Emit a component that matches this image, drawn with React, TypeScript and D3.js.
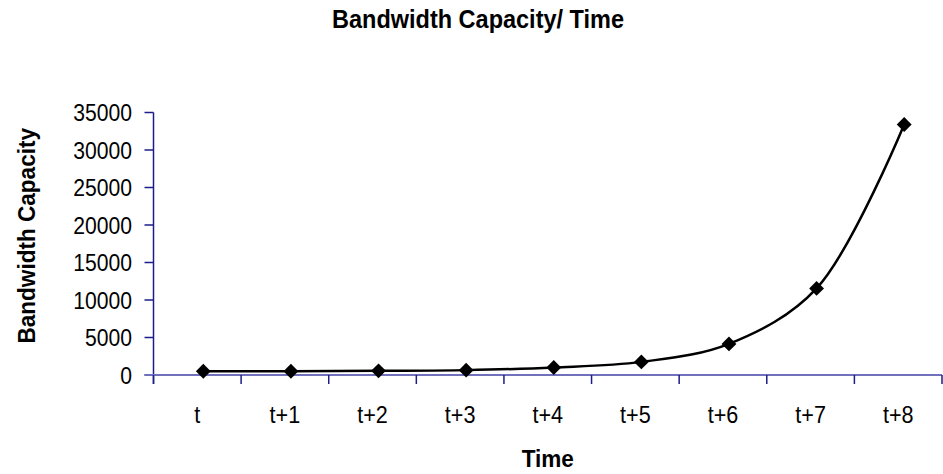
import * as d3 from "d3";
import React from "react";

const categories = ["t", "t+1", "t+2", "t+3", "t+4", "t+5", "t+6", "t+7", "t+8"];
const capacity = [500, 500, 560, 650, 1000, 1750, 4150, 11550, 33400];
const yTicks = [0, 5000, 10000, 15000, 20000, 25000, 30000, 35000];

const width = 943;
const height = 474;
const margin = { top: 112.5, right: 1, bottom: 99, left: 153.5 };
const axisColor = "#1c1c8a";
const font = "'Liberation Sans', Arial, sans-serif";

type NarrowTextProps = {
  x: number;
  y: number;
  size: number;
  squeeze?: number;
  anchor?: "start" | "middle" | "end";
  bold?: boolean;
  rotate?: number;
  children: React.ReactNode;
};

// the original uses a condensed face; squeeze Liberation Sans horizontally
const NarrowText = ({ x, y, size, squeeze = 0.88, anchor = "middle", bold, rotate = 0, children }: NarrowTextProps) => (
  <text
    transform={`translate(${x},${y}) rotate(${rotate}) scale(${squeeze},1)`}
    textAnchor={anchor}
    fontSize={size}
    fontWeight={bold ? "bold" : "normal"}
  >
    {children}
  </text>
);

const App = () => {
  const x = d3
    .scaleBand<string>()
    .domain(categories)
    .range([margin.left, width - margin.right]);

  const y = d3
    .scaleLinear()
    .domain([0, 35000])
    .range([height - margin.bottom, margin.top]);

  // the series sits a few px right of the band centres in the original
  const shift = 6;
  const px = (i: number) => (x(categories[i]) || 0) + x.bandwidth() / 2 + shift;

  const line = d3
    .line<number>()
    .x((d, i) => px(i))
    .y((d) => y(d))
    .curve(d3.curveCatmullRom.alpha(0.5));

  const marker = d3.symbol().type(d3.symbolSquare).size(110)();

  const bottom = y(0);
  const boundaries = categories.map((c) => x(c) || 0).concat([width - margin.right]);

  return (
    <svg
      width={width}
      height={height}
      style={{ position: "absolute", left: 0, top: 0, background: "#fff" }}
      fontFamily={font}
    >
      <NarrowText x={478} y={28} size={25} squeeze={0.94} bold>
        Bandwidth Capacity/ Time
      </NarrowText>

      {/* y axis */}
      <line x1={margin.left} x2={margin.left} y1={y(35000)} y2={bottom + 9} stroke={axisColor} strokeWidth={1.5} />
      {yTicks.map((t) => (
        <g key={t}>
          <line x1={margin.left - 9} x2={margin.left} y1={y(t)} y2={y(t)} stroke={axisColor} strokeWidth={1.5} />
          <NarrowText x={132} y={y(t) + 8.5} size={24} anchor="end">
            {t}
          </NarrowText>
        </g>
      ))}

      {/* x axis */}
      <line x1={margin.left - 9} x2={width - margin.right} y1={bottom} y2={bottom} stroke="#7070bc" strokeWidth={2} />
      {boundaries.map((b, i) => (
        <line key={i} x1={b} x2={b} y1={bottom} y2={bottom + 9} stroke={axisColor} strokeWidth={1.5} />
      ))}
      {categories.map((c) => (
        <NarrowText key={c} x={(x(c) || 0) + x.bandwidth() / 2} y={423} size={24} squeeze={0.9}>
          {c}
        </NarrowText>
      ))}

      <path d={line(capacity) || undefined} fill="none" stroke="#000" strokeWidth={2.5} />
      {capacity.map((v, i) => (
        <path
          key={i}
          d={marker || undefined}
          transform={`translate(${px(i)},${y(v)}) rotate(45)`}
          fill="#000"
        />
      ))}

      <NarrowText x={(margin.left + width - margin.right) / 2} y={467} size={24} squeeze={0.94} bold>
        Time
      </NarrowText>
      <NarrowText x={35} y={(margin.top + bottom) / 2 - 8} size={24} squeeze={0.94} bold rotate={-90}>
        Bandwidth Capacity
      </NarrowText>
    </svg>
  );
};

export default App;
